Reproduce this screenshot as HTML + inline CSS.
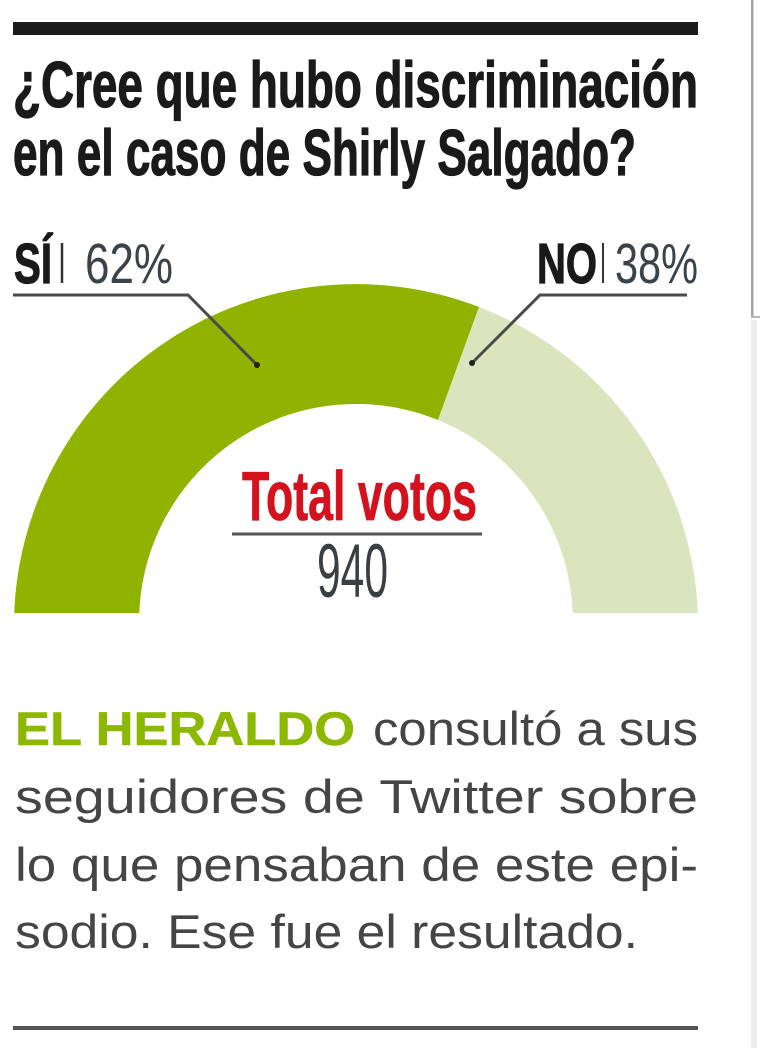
<!DOCTYPE html>
<html>
<head>
<meta charset="utf-8">
<style>
  html,body{margin:0;padding:0;background:#fff;}
  svg{display:block;}
  text{font-family:"Liberation Sans", Arial, sans-serif;}
</style>
</head>
<body>
<svg width="760" height="1048" viewBox="0 0 760 1048" xmlns="http://www.w3.org/2000/svg">
  <rect x="0" y="0" width="760" height="1048" fill="#ffffff"/>

  <!-- right edge border -->
  <rect x="751" y="0" width="2.5" height="318" fill="#a3a3a3"/>
  <rect x="751" y="316" width="9" height="2" fill="#b5b5b5"/>
  <rect x="751" y="320" width="6" height="728" fill="#ececec"/>

  <!-- top black bar -->
  <rect x="13" y="22" width="685" height="13" fill="#1c1c1c"/>

  <!-- title -->
  <text x="13" y="107" font-size="65" font-weight="bold" fill="#1a1a1a" stroke="#1a1a1a" stroke-width="1.2" textLength="685" lengthAdjust="spacingAndGlyphs">¿Cree que hubo discriminación</text>
  <text x="13" y="175" font-size="65" font-weight="bold" fill="#1a1a1a" stroke="#1a1a1a" stroke-width="1.2" textLength="623" lengthAdjust="spacingAndGlyphs">en el caso de Shirly Salgado?</text>

  <!-- SÍ label -->
  <text x="14" y="283" font-size="57" font-weight="bold" fill="#1a1a1a" stroke="#1a1a1a" stroke-width="1.2" textLength="38" lengthAdjust="spacingAndGlyphs">SÍ</text>
  <line x1="62" y1="243" x2="62" y2="283" stroke="#333" stroke-width="2.5"/>
  <text x="85" y="283" font-size="57" fill="#3b434a" textLength="88" lengthAdjust="spacingAndGlyphs">62%</text>

  <!-- NO label -->
  <text x="537" y="283" font-size="57" font-weight="bold" fill="#1a1a1a" stroke="#1a1a1a" stroke-width="1.2" textLength="60" lengthAdjust="spacingAndGlyphs">NO</text>
  <line x1="603" y1="243" x2="603" y2="283" stroke="#333" stroke-width="2"/>
  <text x="615" y="283" font-size="57" fill="#3b434a" textLength="83" lengthAdjust="spacingAndGlyphs">38%</text>

  <!-- gauge -->
  <path d="M14.2,613 A342,342 0 0 1 479,307 L438,420 A217,217 0 0 0 139.3,613 Z" fill="#90b300"/>
  <path d="M479,307 A342,342 0 0 1 697.8,613 L572.7,613 A217,217 0 0 0 438,420 Z" fill="#dbe5bd"/>

  <!-- leader lines -->
  <path d="M13,295 H188 L257,365" fill="none" stroke="#4a4a4a" stroke-width="3"/>
  <circle cx="257" cy="365" r="3" fill="#222"/>
  <path d="M687,295 H540 L472,363" fill="none" stroke="#4a4a4a" stroke-width="3"/>
  <circle cx="472" cy="363" r="3" fill="#222"/>

  <!-- total -->
  <text x="242" y="520" font-size="70" font-weight="bold" fill="#d4121e" stroke="#d4121e" stroke-width="0.8" textLength="235" lengthAdjust="spacingAndGlyphs">Total votos</text>
  <line x1="232" y1="534" x2="482" y2="534" stroke="#555" stroke-width="3"/>
  <text x="317" y="597" font-size="76" fill="#3a3f44" textLength="71" lengthAdjust="spacingAndGlyphs">940</text>

  <!-- paragraph -->
  <text x="15" y="745" font-size="47" font-weight="bold" fill="#8db800" stroke="#8db800" stroke-width="0.5" textLength="340" lengthAdjust="spacingAndGlyphs">EL HERALDO</text>
  <text x="373" y="745" font-size="47" fill="#454545" textLength="325" lengthAdjust="spacingAndGlyphs">consultó a sus</text>
  <text x="15" y="813" font-size="47" fill="#454545" textLength="683" lengthAdjust="spacingAndGlyphs">seguidores de Twitter sobre</text>
  <text x="15" y="881" font-size="47" fill="#454545" textLength="683" lengthAdjust="spacingAndGlyphs">lo que pensaban de este epi-</text>
  <text x="15" y="948" font-size="47" fill="#454545" textLength="623" lengthAdjust="spacingAndGlyphs">sodio. Ese fue el resultado.</text>

  <!-- bottom rule -->
  <rect x="13" y="1026" width="685" height="4" fill="#555"/>
</svg>
</body>
</html>
